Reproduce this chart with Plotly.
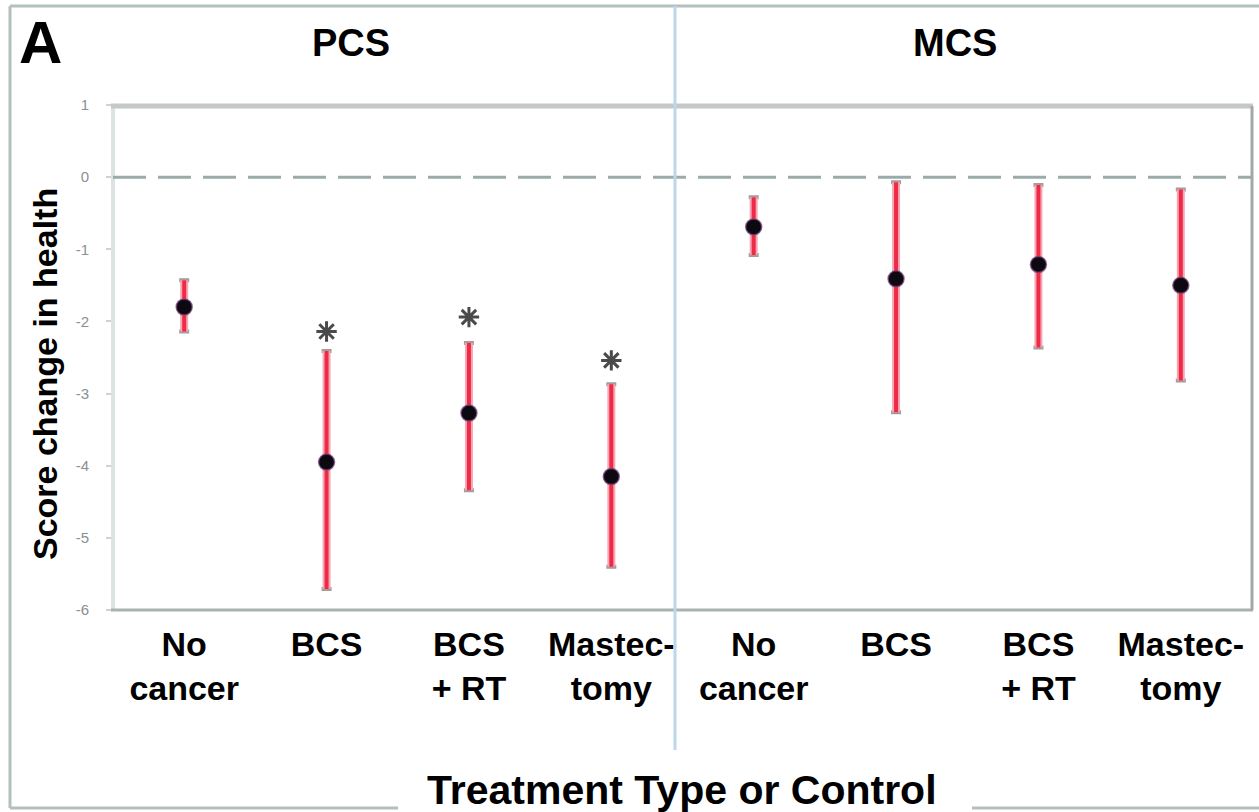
import plotly.graph_objects as go

# ---------------- data ----------------
categories = ["No<br>cancer", "BCS", "BCS<br>+ RT", "Mastec-<br>tomy",
              "No<br>cancer", "BCS", "BCS<br>+ RT", "Mastec-<br>tomy"]
panels = ["PCS", "MCS"]

pcs_mean = [-1.80, -3.95, -3.27, -4.15]
pcs_upper = [-1.43, -2.41, -2.30, -2.87]
pcs_lower = [-2.14, -5.71, -4.34, -5.40]

mcs_mean = [-0.69, -1.41, -1.21, -1.50]
mcs_upper = [-0.28, -0.07, -0.11, -0.17]
mcs_lower = [-1.08, -3.26, -2.36, -2.82]

sig_idx = [1, 2, 3]                # PCS categories flagged with an asterisk
sig_y = [-2.14, -1.94, -2.54]

y_ticks = [1, 0, -1, -2, -3, -4, -5, -6]

# ---------------- geometry ----------------
W, H = 1259, 812
L, R, T, B = 113, 1252, 105, 610   # plot area in pixels


def px(x):
    return (x - L) / (R - L)


def py(y):
    return (B - y) / (B - T)


FONT = "Liberation Sans, Arial, Helvetica, sans-serif"

x = list(range(len(categories)))
mean = pcs_mean + mcs_mean
upper = pcs_upper + mcs_upper
lower = pcs_lower + mcs_lower
plus = [u - m for u, m in zip(upper, mean)]
minus = [m - l for m, l in zip(mean, lower)]

fig = go.Figure()

# gray caps
fig.add_trace(go.Scatter(
    x=x, y=mean, mode="markers", marker=dict(size=1, opacity=0),
    error_y=dict(type="data", array=plus, arrayminus=minus, symmetric=False,
                 color="#a39c9c", thickness=4, width=5),
    hoverinfo="skip", showlegend=False))
# pink halo
fig.add_trace(go.Scatter(
    x=x, y=mean, mode="markers", marker=dict(size=1, opacity=0),
    error_y=dict(type="data", array=plus, arrayminus=minus, symmetric=False,
                 color="#f7a6b6", thickness=8, width=0),
    hoverinfo="skip", showlegend=False))
# red core + markers
fig.add_trace(go.Scatter(
    x=x, y=mean, mode="markers",
    marker=dict(symbol="circle", size=16, color="#0d0910",
                line=dict(color="rgba(120,70,130,0.75)", width=1.5)),
    error_y=dict(type="data", array=plus, arrayminus=minus, symmetric=False,
                 color="#ee2b45", thickness=4, width=0),
    showlegend=False))
# asterisks
fig.add_trace(go.Scatter(
    x=sig_idx, y=sig_y, mode="markers",
    marker=dict(symbol="asterisk-open", size=17, color="#4a4a4a",
                line=dict(color="#4a4a4a", width=3)),
    showlegend=False))

shapes = []
frame_c = "#b3c0c0"
# outer frame
shapes.append(dict(type="line", xref="paper", yref="paper", x0=px(10), x1=px(10),
                   y0=py(6), y1=py(808), line=dict(color=frame_c, width=3)))
shapes.append(dict(type="line", xref="paper", yref="paper", x0=px(10), x1=px(1262),
                   y0=py(6), y1=py(6), line=dict(color=frame_c, width=3)))
shapes.append(dict(type="line", xref="paper", yref="paper", x0=px(10), x1=px(398),
                   y0=py(808), y1=py(808), line=dict(color=frame_c, width=3)))
shapes.append(dict(type="line", xref="paper", yref="paper", x0=px(972), x1=px(1262),
                   y0=py(808), y1=py(808), line=dict(color=frame_c, width=3)))
# plot frame
shapes.append(dict(type="line", xref="paper", yref="paper", x0=px(113), x1=px(113),
                   y0=py(105), y1=py(610), line=dict(color="#dce3e3", width=4)))
shapes.append(dict(type="line", xref="paper", yref="paper", x0=px(111), x1=px(1253),
                   y0=py(106), y1=py(106), line=dict(color="#c5c8c8", width=5)))
shapes.append(dict(type="line", xref="paper", yref="paper", x0=px(111), x1=px(1253),
                   y0=py(610), y1=py(610), line=dict(color="#a9b1b1", width=3)))
shapes.append(dict(type="line", xref="paper", yref="paper", x0=px(1252), x1=px(1252),
                   y0=py(106), y1=py(610), line=dict(color="#a0a8a8", width=3)))
# zero dashed line
shapes.append(dict(type="line", xref="paper", yref="y", x0=0, x1=1, y0=0, y1=0,
                   line=dict(color="#9aaba9", width=3, dash="33px,12px")))
# panel divider
shapes.append(dict(type="line", xref="paper", yref="paper", x0=px(675), x1=px(675),
                   y0=py(6), y1=py(750), line=dict(color="#bcd7ea", width=3)))


def ann(text, xp, yp, size, angle=0):
    return dict(text=text, x=px(xp), y=py(yp), xref="paper", yref="paper",
                xanchor="center", yanchor="middle", showarrow=False,
                textangle=angle, font=dict(family=FONT, size=size, color="#000"))


annotations = [
    ann("<b>A</b>", 40, 43, 60),
    ann("<b>%s</b>" % panels[0], 351, 43, 38),
    ann("<b>%s</b>" % panels[1], 955, 43, 38),
    ann("<b>Score change in health</b>", 45, 374, 34, -90),
    ann("<b>Treatment Type or Control</b>", 682, 790, 41),
]

fig.update_layout(
    width=W, height=H, autosize=False,
    margin=dict(l=L, r=W - R, t=T, b=H - B, pad=0),
    paper_bgcolor="white", plot_bgcolor="white",
    shapes=shapes, annotations=annotations, showlegend=False,
    xaxis=dict(range=[-0.5, 7.5], tickvals=x, ticktext=["<b>%s</b>" % c for c in categories],
               tickfont=dict(family=FONT, size=34, color="#000"), showgrid=False,
               zeroline=False, showline=False, ticks="", ticklabelstandoff=11),
    yaxis=dict(range=[-6, 1], tickvals=y_ticks, ticktext=[str(v) for v in y_ticks],
               tickfont=dict(family=FONT, size=15, color="#8a9090"), showgrid=False,
               zeroline=False, showline=False, ticks="outside", ticklen=6,
               tickcolor="#cdd3d3", tickwidth=2, ticklabelstandoff=14),
)

fig.write_html("out.html", config={"displayModeBar": False},
               post_script="document.body.style.margin='0';"
                           "document.body.style.overflow='hidden';")
